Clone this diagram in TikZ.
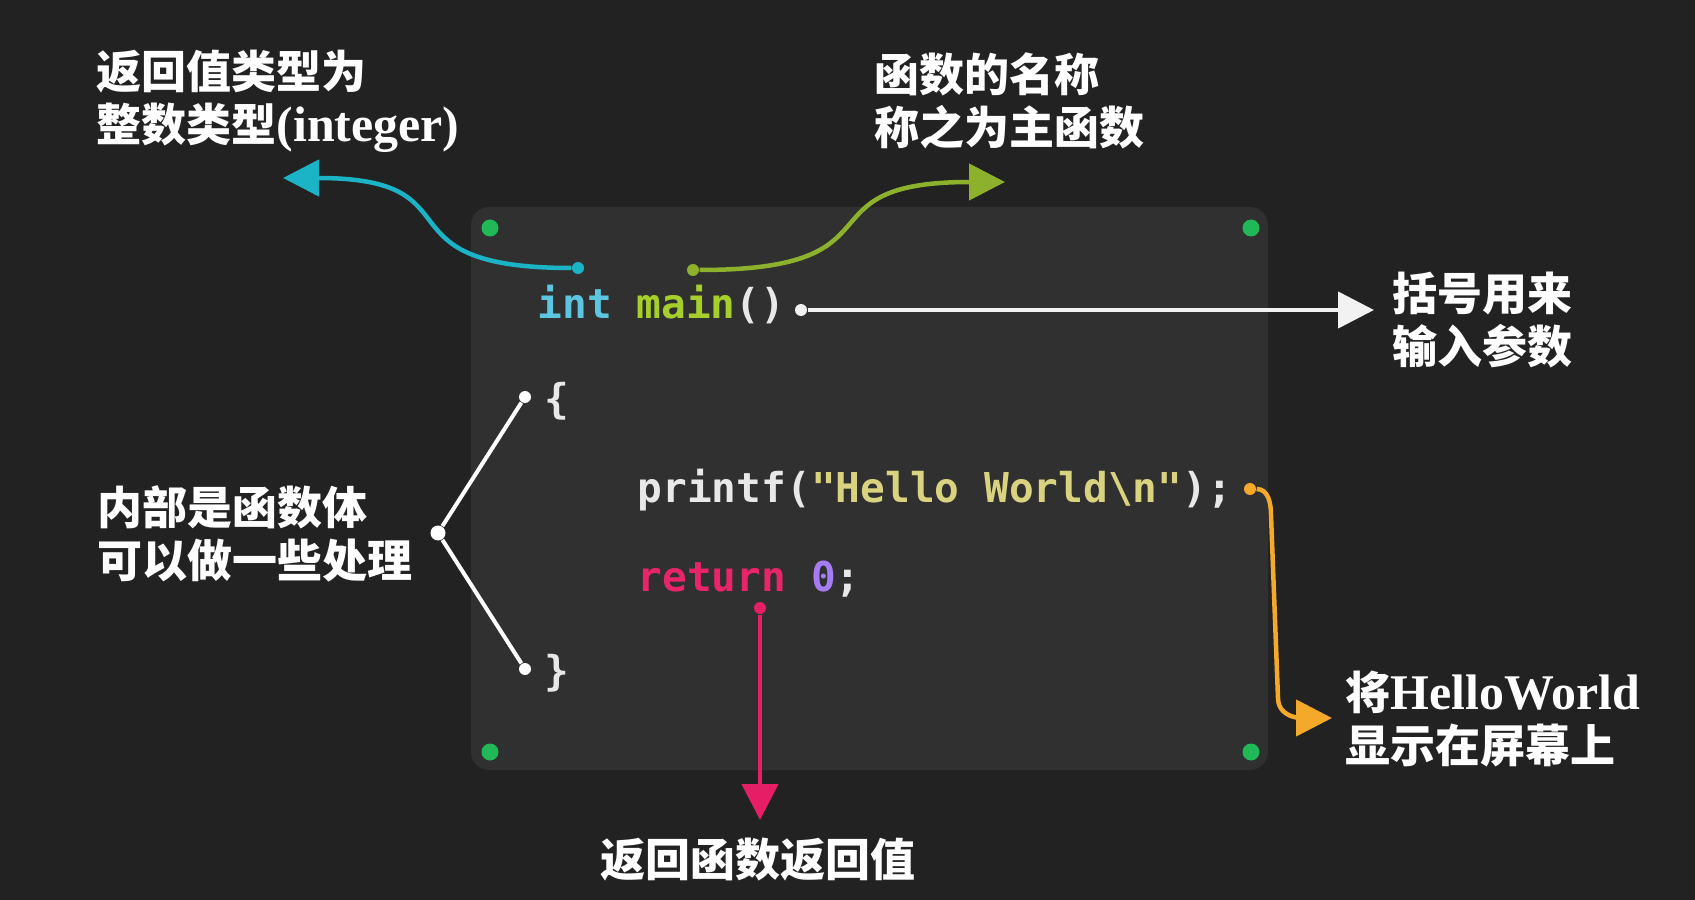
\documentclass[tikz,border=0pt]{standalone}
\usepackage{fontspec}
\usetikzlibrary{arrows.meta}

\newfontfamily\cjk{Noto Sans CJK SC}
\newfontfamily\codefont{DejaVu Sans Mono}
\newfontfamily\latinserif{Liberation Serif}
\newcommand\latpart[1]{{\latinserif\bfseries\fontsize{14.2}{15}\selectfont #1}}

\definecolor{bgcol}{HTML}{222222}
\definecolor{panelcol}{HTML}{303030}
\definecolor{dotgreen}{HTML}{21B957}
\definecolor{codegray}{HTML}{E8E8E8}
\definecolor{intcol}{HTML}{5CC6E0}
\definecolor{maincol}{HTML}{A6CF2B}
\definecolor{strcol}{HTML}{D9D27E}
\definecolor{retcol}{HTML}{E8246A}
\definecolor{numcol}{HTML}{A57CF2}
\definecolor{cyanarrow}{HTML}{1BB3C6}
\definecolor{greenarrow}{HTML}{8DB12C}
\definecolor{orangearrow}{HTML}{F5A92A}
\definecolor{pinkarrow}{HTML}{E61E66}
\definecolor{whitearrow}{HTML}{F2F2F2}

\tikzset{
  cornerdot/.style={circle, fill=dotgreen, inner sep=0pt, minimum size=1.7mm},
  enddot/.style={circle, fill=#1, inner sep=0pt, minimum size=1.2mm},
  callarrow/.style={draw=#1, line width=0.45mm, -{Triangle[length=3.6mm,width=3.6mm]}},
  codeline/.style={text=codegray, font=\codefont\bfseries\fontsize{11.7}{14}\selectfont, inner sep=0pt, anchor=base west},
  notetext/.style={text=white, font=\cjk\bfseries\fontsize{12.8}{15}\selectfont, align=left, inner sep=0pt, anchor=west},
}

\begin{document}
\begin{tikzpicture}[x=0.1mm, y=-0.1mm]
    \fill[bgcol] (0,0) rectangle (1695,900);
    \useasboundingbox (0,0) rectangle (1695,900);

    % Panel
    \fill[panelcol, rounded corners=1.8mm] (471,207) rectangle (1268,770);
    \node[cornerdot] (tl) at (490,228) {};
    \node[cornerdot] (tr) at (1251,228) {};
    \node[cornerdot] (bl) at (490,752) {};
    \node[cornerdot] (br) at (1251,752) {};

    % Code
    \node[codeline] (sig) at (537,319) {\textcolor{intcol}{int} \textcolor{maincol}{main}()};
    \node[codeline] (lbrace) at (544,413) {\{};
    \node[codeline] (printf) at (637,502) {printf(\textcolor{strcol}{"Hello World\textbackslash n"});};
    \node[codeline] (ret) at (637,591) {\textcolor{retcol}{return} \textcolor{numcol}{0};};
    \node[codeline] (rbrace) at (544,685) {\}};

    % Notes
    \node[notetext] (rettype) at (96,101) {返回值类型为\\整数类型\latpart{(integer)}};
    \node[notetext] (funcname) at (874,101) {函数的名称\\称之为主函数};
    \node[notetext] (params) at (1392,320) {括号用来\\输入参数};
    \node[notetext] (body) at (97,534) {内部是函数体\\可以做一些处理};
    \node[notetext] (prints) at (1345,719) {将\latpart{HelloWorld}\\显示在屏幕上};
    \node[notetext, anchor=center] (retval) at (758,860) {返回函数返回值};

    % Points
    \node[enddot=cyanarrow] (intdot) at (578,268) {};
    \node[enddot=greenarrow] (maindot) at (693,270) {};
    \node[enddot=whitearrow] (parendot) at (801,310) {};
    \node[enddot=white] (lbdot) at (525,397) {};
    \node[enddot=white] (rbdot) at (525,669) {};
    \node[enddot=white, minimum size=1.5mm] (junction) at (438,533) {};
    \node[enddot=orangearrow] (printdot) at (1250,489) {};
    \node[enddot=pinkarrow] (retdot) at (760,608) {};

    \coordinate (inttip) at (283,178);
    \coordinate (maintip) at (1005,182);
    \coordinate (parentip) at (1374,310);
    \coordinate (printbendA) at (1271,515);
    \coordinate (printbendB) at (1278,698);
    \coordinate (printtip) at (1332,718);
    \coordinate (rettip) at (760,820);

    % Arrows
    \draw[callarrow=cyanarrow] (intdot) to[out=180, in=0, looseness=1.7] (inttip);
    \draw[callarrow=greenarrow] (maindot) to[out=0, in=180, looseness=1.7] (maintip);
    \draw[callarrow=whitearrow] (parendot) -- (parentip);
    \draw[callarrow=orangearrow] (printdot) to[out=0, in=90] (printbendA) -- (printbendB) to[out=-90, in=180] (printtip);
    \draw[callarrow=pinkarrow] (retdot) -- (rettip);
    \draw[white, line width=0.4mm] (lbdot) -- (junction) -- (rbdot);
\end{tikzpicture}
\end{document}
